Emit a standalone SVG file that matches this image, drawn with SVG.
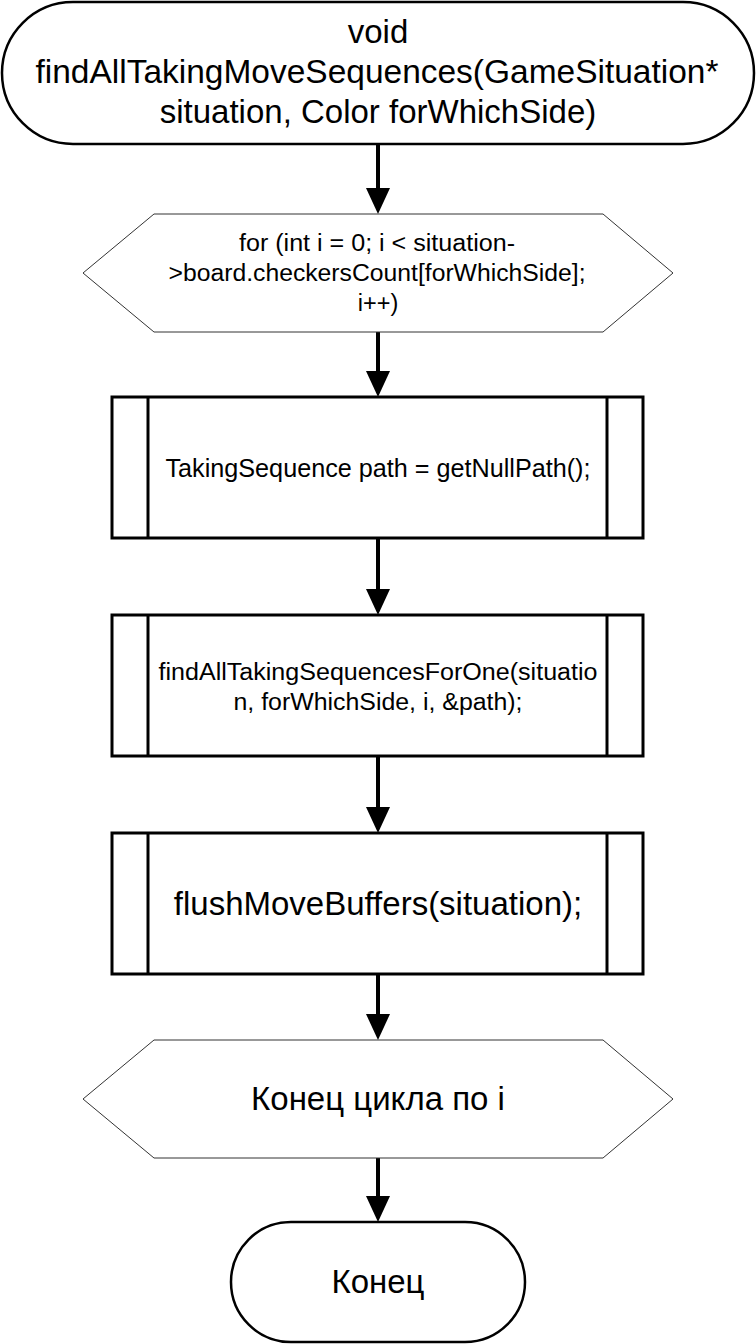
<svg xmlns="http://www.w3.org/2000/svg" width="756" height="1344" viewBox="0 0 756 1344">
<style>
.term{fill:#fff;stroke:#000;stroke-width:2.5}
.hex{fill:#fff;stroke:#333;stroke-width:1}
.proc{fill:#fff;stroke:#000;stroke-width:3}
.t{font-family:"Liberation Sans",Arial,sans-serif;fill:#000;text-anchor:middle}
.s23{font-size:23.5px}
.s25{font-size:25px}
.s33{font-size:33px}
.edge{stroke:#000;stroke-width:4;fill:none}
.ah{fill:#000}
</style>
<rect width="756" height="1344" fill="#fff"/>
<g id="connectors">
<line class="edge" x1="378" y1="144" x2="378" y2="190"/><polygon class="ah" points="366,188 390,188 378,214"/>
<line class="edge" x1="378" y1="332" x2="378" y2="373"/><polygon class="ah" points="366,371 390,371 378,397"/>
<line class="edge" x1="378" y1="538" x2="378" y2="591"/><polygon class="ah" points="366,589 390,589 378,615"/>
<line class="edge" x1="378" y1="756" x2="378" y2="809"/><polygon class="ah" points="366,807 390,807 378,833"/>
<line class="edge" x1="378" y1="974" x2="378" y2="1016"/><polygon class="ah" points="366,1014 390,1014 378,1040"/>
<line class="edge" x1="378" y1="1158" x2="378" y2="1198"/><polygon class="ah" points="366,1196 390,1196 378,1222"/>
</g>
<g id="start">
<rect class="term" x="2" y="2" width="752" height="142" rx="71" ry="71"/>
<text class="t s33" x="378" y="43">void</text>
<text class="t s33" x="377" y="83" textLength="683" lengthAdjust="spacingAndGlyphs">findAllTakingMoveSequences(GameSituation*</text>
<text class="t s33" x="378" y="123">situation, Color forWhichSide)</text>
</g>
<g id="loop_start">
<polygon class="hex" points="83,273 154,214 603,214 673,273 603,332 154,332"/>
<text class="t s23" x="377" y="251" textLength="276" lengthAdjust="spacingAndGlyphs">for (int i = 0; i &lt; situation-</text>
<text class="t s23" x="377" y="281" textLength="417" lengthAdjust="spacingAndGlyphs">&gt;board.checkersCount[forWhichSide];</text>
<text class="t s23" x="378" y="311">i++)</text>
</g>
<g id="proc1">
<rect class="proc" x="112" y="397" width="531" height="141"/>
<line class="proc" x1="148" y1="397" x2="148" y2="538"/>
<line class="proc" x1="607" y1="397" x2="607" y2="538"/>
<text class="t s25" x="378" y="477" textLength="425" lengthAdjust="spacingAndGlyphs">TakingSequence path = getNullPath();</text>
</g>
<g id="proc2">
<rect class="proc" x="112" y="615" width="531" height="141"/>
<line class="proc" x1="148" y1="615" x2="148" y2="756"/>
<line class="proc" x1="607" y1="615" x2="607" y2="756"/>
<text class="t s23" x="378" y="680" textLength="439" lengthAdjust="spacingAndGlyphs">findAllTakingSequencesForOne(situatio</text>
<text class="t s23" x="378" y="710" textLength="289" lengthAdjust="spacingAndGlyphs">n, forWhichSide, i, &amp;path);</text>
</g>
<g id="proc3">
<rect class="proc" x="112" y="833" width="531" height="141"/>
<line class="proc" x1="148" y1="833" x2="148" y2="974"/>
<line class="proc" x1="607" y1="833" x2="607" y2="974"/>
<text class="t s33" x="378" y="915">flushMoveBuffers(situation);</text>
</g>
<g id="loop_end">
<polygon class="hex" points="83,1099 154,1040 603,1040 673,1099 603,1158 154,1158"/>
<text class="t s33" x="378" y="1110">Конец цикла по i</text>
</g>
<g id="end">
<rect class="term" x="231" y="1222" width="294" height="120" rx="60" ry="60"/>
<text class="t s33" x="378" y="1293">Конец</text>
</g>
</svg>
